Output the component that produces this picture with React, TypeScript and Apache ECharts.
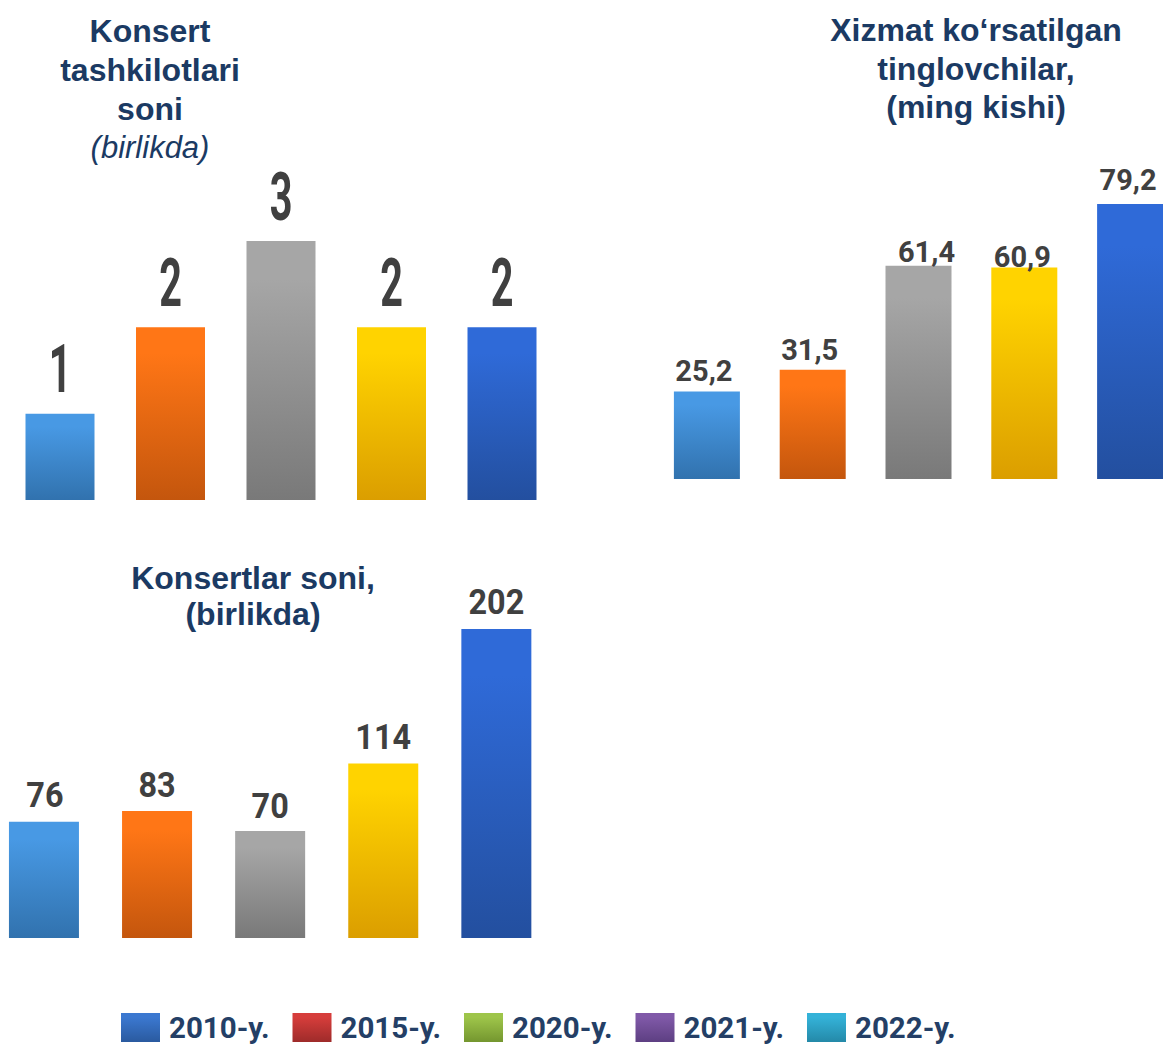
import React, { useEffect, useRef } from "react";
import * as echarts from "echarts";

// ---- data ----
const CATEGORIES = ["2010-y.", "2015-y.", "2020-y.", "2021-y.", "2022-y."];
const ORGS = [1, 2, 3, 2, 2]; // Konsert tashkilotlari soni
const LISTENERS = [25.2, 31.5, 61.4, 60.9, 79.2]; // Xizmat ko'rsatilgan tinglovchilar
const CONCERTS = [76, 83, 70, 114, 202]; // Konsertlar soni
const LEGEND_LABELS = ["2010-y.", "2015-y.", "2020-y.", "2021-y.", "2022-y."];

// ---- styles ----
const BAR_COLORS: [string, string][] = [
  ["#4899e4", "#3172ae"],
  ["#ff7616", "#c4560d"],
  ["#a6a6a6", "#797979"],
  ["#ffd300", "#db9e00"],
  ["#2f6ad8", "#234f9f"],
];
const LEGEND_COLORS: [string, string][] = [
  ["#3b78d0", "#2a5a9f"],
  ["#d63d3b", "#9e2b2a"],
  ["#9ec54a", "#74962f"],
  ["#8059a8", "#5d3f82"],
  ["#34b2d8", "#2489a8"],
];
const TITLE_COLOR = "#1b3a63";
const LABEL_COLOR = "#404040";
const LEGEND_TEXT_COLOR = "#243f66";

const grad = (c: [string, string]) =>
  new echarts.graphic.LinearGradient(0, 0, 0, 1, [
    { offset: 0, color: c[0] },
    { offset: 0.15, color: c[0] },
    { offset: 1, color: c[1] },
  ]);

const GRIDS = [
  { left: 4.75, width: 552.5, top: 241, height: 259 },
  { left: 654, width: 529, top: 204, height: 275 },
  { left: -12.6, width: 565.5, top: 629, height: 309 },
];
const BAR_WIDTHS = [69, 66, 70];

type LabelCfg = {
  size: number;
  scaleX: number;
  dy: number[];
  dx: number[];
  fmt: (v: number) => string;
};
const LABELS: LabelCfg[] = [
  { size: 66, scaleX: 0.6, dy: [44, 44, 43, 44, 44], dx: [0, 0, 0, 0, 0], fmt: (v) => String(v) },
  {
    size: 29,
    scaleX: 1,
    dy: [21, 20, 14, 11, 24],
    dx: [-3, -3, 8, -2, -2],
    fmt: (v) => v.toFixed(1).replace(".", ","),
  },
  { size: 36, scaleX: 0.9, dy: [27, 27, 26, 27, 28], dx: [1, 0, 0, 0, 0], fmt: (v) => String(v) },
];

const DATASETS = [ORGS, LISTENERS, CONCERTS];

function buildOption() {
  const series: any[] = [];
  DATASETS.forEach((values, k) => {
    series.push({
      type: "bar",
      xAxisIndex: k,
      yAxisIndex: k,
      barWidth: BAR_WIDTHS[k],
      silent: true,
      data: values.map((v, i) => ({ value: v, itemStyle: { color: grad(BAR_COLORS[i]) } })),
    });
    const cfg = LABELS[k];
    series.push({
      type: "custom",
      xAxisIndex: k,
      yAxisIndex: k,
      silent: true,
      z: 10,
      data: values.map((v, i) => [i, v]),
      renderItem: (params: any, api: any) => {
        const i = params.dataIndex;
        const v = api.value(1);
        const p = api.coord([i, v]);
        return {
          type: "text",
          x: p[0] + cfg.dx[i],
          y: p[1] - cfg.dy[i],
          scaleX: cfg.scaleX,
          style: {
            text: cfg.fmt(v),
            fill: LABEL_COLOR,
            fontSize: cfg.size,
            fontFamily: "Roboto",
            fontWeight: "bold",
            align: "center",
            verticalAlign: "middle",
          },
        };
      },
    });
  });

  const bold = (size: number, lh: number) => ({
    fontSize: size,
    fontWeight: "bold",
    fontFamily: "Liberation Sans",
    color: TITLE_COLOR,
    lineHeight: lh,
  });

  const titles = [
    {
      left: 150,
      top: 11,
      text: "{b|Konsert}\n{b|tashkilotlari}\n{b|soni}\n{i|(birlikda)}",
      rich: {
        b: bold(32, 39),
        i: { ...bold(31, 39), fontWeight: "normal", fontStyle: "italic" },
      },
    },
    {
      left: 976,
      top: 11,
      text: "{b|Xizmat ko\u2018rsatilgan}\n{b|tinglovchilar,}\n{b|(ming kishi)}",
      rich: { b: bold(32, 38.5) },
    },
    {
      left: 253,
      top: 560,
      text: "{b|Konsertlar soni,}\n{b|(birlikda)}",
      rich: { b: bold(32, 36) },
    },
  ].map((t) => ({
    left: t.left,
    top: t.top,
    padding: 0,
    textAlign: "center",
    text: t.text,
    textStyle: { rich: t.rich },
  }));

  const graphic: any[] = [];
  LEGEND_LABELS.forEach((lab, i) => {
    const x0 = 121 + i * 171.5;
    graphic.push({
      type: "rect",
      shape: { x: x0, y: 1013, width: 39, height: 29 },
      style: { fill: grad(LEGEND_COLORS[i]) },
      silent: true,
    });
    graphic.push({
      type: "text",
      x: x0 + 48,
      y: 1027.5,
      style: {
        text: lab,
        fill: LEGEND_TEXT_COLOR,
        fontSize: 29.5,
        fontFamily: "Roboto",
        fontWeight: "bold",
        align: "left",
        verticalAlign: "middle",
      },
      silent: true,
    });
  });

  return {
    animation: false,
    backgroundColor: "#ffffff",
    title: titles,
    grid: GRIDS.map((g) => ({ ...g, containLabel: false, outerBoundsMode: "none" })),
    xAxis: GRIDS.map((_, k) => ({
      type: "category",
      gridIndex: k,
      data: CATEGORIES,
      show: false,
    })),
    yAxis: GRIDS.map((_, k) => ({
      type: "value",
      gridIndex: k,
      min: 0,
      max: Math.max(...DATASETS[k]),
      show: false,
      splitLine: { show: false },
    })),
    series,
    graphic,
  };
}

export default function App() {
  const ref = useRef<HTMLDivElement>(null);
  useEffect(() => {
    const chart = echarts.init(ref.current!, null, { renderer: "svg" });
    chart.setOption(buildOption() as any);
    return () => chart.dispose();
  }, []);
  return (
    <div
      ref={ref}
      style={{ position: "absolute", left: 0, top: 0, width: 1163, height: 1046, background: "#fff" }}
    />
  );
}
